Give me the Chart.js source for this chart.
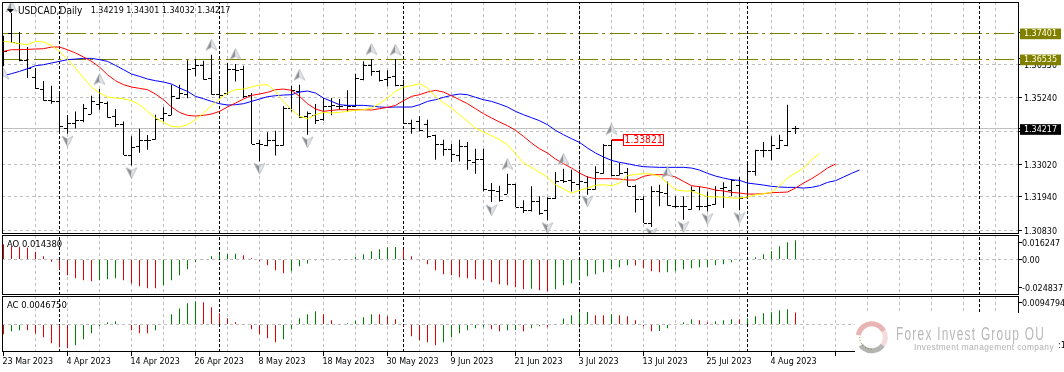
<!DOCTYPE html>
<html>
<head>
<meta charset="utf-8">
<title>USDCAD Daily</title>
<script src="https://cdn.jsdelivr.net/npm/chart.js@4"></script>
<style>
    html, body { margin: 0; padding: 0; background: #fff; }
    body { width: 1064px; height: 372px; overflow: hidden; position: relative; }
    canvas { position: absolute; left: 0; }
</style>
</head>
<body>
<canvas id="mainPane" width="1064" height="235" style="top:0"></canvas>
<canvas id="aoPane" width="1064" height="61" style="top:235px"></canvas>
<canvas id="acPane" width="1064" height="76" style="top:296px"></canvas>
<script>
// Daily bars
const highs = [1.37307,1.38062,1.37429,1.36930,1.36230,1.35798,1.35642,1.35420,1.34665,1.34787,
    1.35032,1.35309,1.35531,1.35120,1.34865,1.34454,1.33955,1.34210,1.33999,1.34676,
    1.34921,1.35676,1.35676,1.36486,1.36530,1.36475,1.36674,1.35842,1.36397,1.36364,
    1.36308,1.35398,1.33844,1.34088,1.34144,1.34954,1.35642,1.35676,1.34787,1.35032,
    1.35231,1.35231,1.35198,1.35487,1.36042,1.36452,1.36530,1.36153,1.36153,1.36530,
    1.35842,1.34510,1.34621,1.34510,1.34010,1.33844,1.33711,1.33844,1.33766,1.33544,
    1.33544,1.32401,1.32312,1.32712,1.32379,1.31824,1.32290,1.31957,1.31924,1.32767,
    1.32878,1.32845,1.32845,1.32623,1.32956,1.33700,1.33844,1.33067,1.32900,1.32345,
    1.31957,1.32290,1.32345,1.32456,1.31957,1.31957,1.32290,1.32290,1.32123,1.32290,
    1.32423,1.32534,1.32601,1.33067,1.33511,1.33766,1.33955,1.34010,1.35009,1.34301];
const lows = [1.36286,1.37063,1.36452,1.35897,1.35531,1.35143,1.35043,1.34088,1.34044,1.34221,
    1.34421,1.34688,1.34843,1.34577,1.34266,1.33333,1.32989,1.33411,1.33511,1.33844,
    1.34454,1.34654,1.35198,1.35220,1.35953,1.35842,1.35342,1.35309,1.35342,1.35786,
    1.35231,1.33700,1.33122,1.33622,1.33322,1.33644,1.34787,1.34566,1.34010,1.34366,
    1.34477,1.34654,1.34843,1.34787,1.34932,1.35820,1.35975,1.35786,1.35620,1.35620,
    1.34399,1.34044,1.34121,1.33899,1.33178,1.33311,1.33100,1.33122,1.32845,1.32712,
    1.32123,1.31768,1.31790,1.32046,1.31602,1.31402,1.31457,1.31346,1.31158,1.31868,
    1.32401,1.32123,1.32179,1.32012,1.32179,1.32712,1.32623,1.32656,1.32290,1.31424,
    1.31069,1.30936,1.31624,1.31646,1.31568,1.31180,1.31513,1.31491,1.31457,1.31679,
    1.31568,1.31957,1.31491,1.31935,1.32645,1.33256,1.33156,1.33533,1.33622,1.34032];
const opens = [1.37063,1.37396,1.37063,1.36508,1.35931,1.35531,1.35176,1.35120,1.34232,1.34399,
    1.34488,1.34710,1.35043,1.35065,1.34621,1.34377,1.33333,1.33622,1.33844,1.33866,
    1.34566,1.34676,1.35231,1.35376,1.36230,1.36341,1.35897,1.35376,1.35398,1.36208,
    1.36197,1.35320,1.33733,1.33655,1.33822,1.33677,1.34898,1.35453,1.34621,1.34676,
    1.34532,1.34954,1.34976,1.35009,1.34954,1.35864,1.36319,1.36119,1.35864,1.35975,
    1.35676,1.34399,1.34454,1.34377,1.33988,1.33700,1.33533,1.33344,1.33622,1.33089,
    1.33200,1.32179,1.32123,1.32046,1.32368,1.31602,1.31491,1.31813,1.31513,1.31901,
    1.32512,1.32490,1.32368,1.32434,1.32212,1.32734,1.33677,1.32656,1.32756,1.32290,
    1.31879,1.31069,1.32123,1.32068,1.31624,1.31624,1.31535,1.31646,1.31646,1.31713,
    1.32234,1.32179,1.32345,1.31935,1.32812,1.33489,1.33511,1.33566,1.33655,1.34219];
const closes = [1.36785,1.37085,1.36486,1.36230,1.35553,1.35176,1.35120,1.34288,1.34399,1.34510,
    1.34898,1.35120,1.35098,1.34599,1.34377,1.33333,1.33611,1.33844,1.33844,1.34532,
    1.34732,1.35309,1.35398,1.36208,1.36319,1.35875,1.35365,1.35342,1.36208,1.36175,
    1.35287,1.33700,1.33711,1.33844,1.33655,1.34898,1.35487,1.34599,1.34732,1.34510,
    1.34976,1.34987,1.34976,1.34976,1.35897,1.36341,1.36119,1.35842,1.35920,1.35676,
    1.34399,1.34232,1.34177,1.33977,1.33700,1.33533,1.33367,1.33644,1.33156,1.33200,
    1.32201,1.32157,1.31846,1.32368,1.31602,1.31491,1.31813,1.31402,1.31901,1.32456,
    1.32456,1.32423,1.32456,1.32201,1.32767,1.33677,1.32656,1.32734,1.32312,1.31879,
    1.31069,1.32123,1.32090,1.31679,1.31624,1.31624,1.32179,1.31646,1.31679,1.32179,
    1.32257,1.32512,1.31901,1.32812,1.33489,1.33511,1.33655,1.33844,1.34144,1.34217];

// Alligator lines, they run past the last bar
const lipsLine = [1.37118,1.37085,1.37041,1.37007,1.37118,1.37096,1.36985,1.36785,1.36508,1.36230,
    1.35897,1.35598,1.35398,1.35265,1.35231,1.35209,1.35143,1.35009,1.34787,1.34566,
    1.34421,1.34288,1.34266,1.34343,1.34510,1.34732,1.34976,1.35209,1.35398,1.35509,
    1.35531,1.35598,1.35664,1.35676,1.35453,1.35120,1.34843,1.34621,1.34543,1.34676,
    1.34754,1.34732,1.34754,1.34787,1.34821,1.34843,1.34898,1.35043,1.35231,1.35453,
    1.35598,1.35642,1.35709,1.35564,1.35287,1.35065,1.34898,1.34676,1.34454,1.34232,
    1.34099,1.33977,1.33844,1.33677,1.33378,1.33067,1.32923,1.32756,1.32590,1.32345,
    1.32201,1.32068,1.32157,1.32234,1.32323,1.32345,1.32312,1.32401,1.32645,1.32690,
    1.32712,1.32701,1.32623,1.32401,1.32179,1.32135,1.32135,1.32035,1.31946,1.31935,
    1.31935,1.31901,1.31901,1.31935,1.32012,1.32046,1.32090,1.32312,1.32567,1.32734,
    1.32900,1.33178,1.33378];
const teethLine = [1.36785,1.36841,1.36841,1.36852,1.36863,1.36874,1.36930,1.36930,1.36841,1.36730,
    1.36597,1.36452,1.36264,1.36008,1.35809,1.35676,1.35598,1.35553,1.35509,1.35365,
    1.35176,1.34932,1.34754,1.34654,1.34632,1.34654,1.34699,1.34787,1.34932,1.35065,
    1.35198,1.35320,1.35365,1.35420,1.35509,1.35531,1.35487,1.35287,1.35043,1.34865,
    1.34787,1.34821,1.34843,1.34843,1.34843,1.34843,1.34832,1.34876,1.34921,1.34987,
    1.35143,1.35287,1.35342,1.35431,1.35487,1.35431,1.35309,1.35176,1.35043,1.34876,
    1.34710,1.34566,1.34432,1.34310,1.34155,1.33955,1.33733,1.33544,1.33400,1.33200,
    1.33045,1.32900,1.32734,1.32601,1.32545,1.32545,1.32545,1.32534,1.32501,1.32501,
    1.32623,1.32678,1.32678,1.32678,1.32601,1.32456,1.32312,1.32279,1.32234,1.32168,
    1.32135,1.32090,1.32068,1.32035,1.32035,1.32046,1.32079,1.32090,1.32101,1.32234,
    1.32401,1.32545,1.32712,1.32900,1.33034];
const jawLine = [1.35975,1.36042,1.36119,1.36208,1.36308,1.36341,1.36397,1.36452,1.36508,1.36530,
    1.36552,1.36552,1.36508,1.36452,1.36319,1.36175,1.36031,1.35953,1.35864,1.35809,
    1.35764,1.35698,1.35564,1.35453,1.35287,1.35209,1.35120,1.35043,1.34998,1.35009,
    1.35043,1.35120,1.35198,1.35276,1.35309,1.35331,1.35342,1.35431,1.35465,1.35398,
    1.35231,1.35120,1.35009,1.34987,1.34987,1.34987,1.34965,1.34932,1.34921,1.34932,
    1.34932,1.34932,1.35009,1.35120,1.35176,1.35254,1.35320,1.35365,1.35342,1.35254,
    1.35176,1.35120,1.35032,1.34932,1.34787,1.34676,1.34577,1.34477,1.34343,1.34155,
    1.34010,1.33877,1.33755,1.33566,1.33400,1.33267,1.33156,1.33089,1.33045,1.32989,
    1.32945,1.32934,1.32923,1.32923,1.32923,1.32923,1.32900,1.32834,1.32723,1.32634,
    1.32567,1.32512,1.32490,1.32401,1.32368,1.32334,1.32290,1.32268,1.32257,1.32257,
    1.32234,1.32257,1.32312,1.32423,1.32479,1.32601,1.32723,1.32834];

// Fractal arrows
const fractalUpBars = [0,1,12,26,29,37,46,49,63,70,76,83];
const fractalUpPrices = [1.36042,1.38284,1.35864,1.37007,1.36697,1.36008,1.36863,1.36841,1.33034,1.33200,1.34199,1.32767];
const fractalDownBars = [8,16,32,38,61,68,73,81,85,88,92];
const fractalDownPrices = [1.33788,1.32734,1.32878,1.33755,1.31491,1.30902,1.31790,1.30714,1.30936,1.31202,1.31235];

// Oscillators
const aoValues = [0.011408,0.009920,0.009424,0.008928,0.005704,0.002480,-0.001736,-0.007192,-0.011656,-0.013888,
    -0.015376,-0.016120,-0.015376,-0.014632,-0.013888,-0.015376,-0.017856,-0.019840,-0.021328,-0.021452,
    -0.019096,-0.015376,-0.011656,-0.007192,-0.001984,0.000248,0.002480,0.003968,0.004092,0.004216,
    0.003224,0.000992,-0.001240,-0.004216,-0.007936,-0.010168,-0.008680,-0.004960,-0.002976,-0.000496,
    0.000124,0.000198,-0.000496,0.000248,0.001984,0.003968,0.006200,0.007688,0.009176,0.009300,
    0.007440,0.002480,-0.000496,-0.003472,-0.007936,-0.010912,-0.011656,-0.013144,-0.013888,-0.014632,
    -0.015376,-0.016864,-0.018352,-0.019096,-0.020584,-0.022072,-0.021824,-0.022816,-0.023808,-0.022072,
    -0.019096,-0.017608,-0.015376,-0.012400,-0.010912,-0.009424,-0.007192,-0.005704,-0.004216,-0.004464,
    -0.006448,-0.008680,-0.009548,-0.009424,-0.008680,-0.007192,-0.006448,-0.005704,-0.005580,-0.004216,
    -0.003472,-0.001984,-0.000992,0.000124,0.001736,0.003968,0.006200,0.009920,0.012896,0.014380];
const acValues = [-0.00377,-0.00260,-0.00221,-0.00228,-0.00351,-0.00494,-0.00728,-0.00884,-0.00923,-0.00806,
    -0.00572,-0.00338,-0.00065,0.00091,0.00130,0,-0.00221,-0.00338,-0.00345,-0.00221,
    0.00026,0.00403,0.00624,0.00832,0.00910,0.00871,0.00676,0.00442,0.00247,0.00091,
    0.00013,-0.00182,-0.00377,-0.00533,-0.00689,-0.00572,-0.00182,0.00247,0.00403,0.00520,
    0.00403,0.00169,0.00013,0.00052,0.00143,0.00286,0.00403,0.00397,0.00325,0.00208,
    -0.00065,-0.00455,-0.00611,-0.00689,-0.00806,-0.00689,-0.00494,-0.00338,-0.00221,-0.00143,
    -0.00104,-0.00182,-0.00260,-0.00221,-0.00215,-0.00260,-0.00143,-0.00065,-0.00104,0.00013,
    0.00234,0.00364,0.00481,0.00488,0.00364,0.00358,0.00403,0.00364,0.00325,0.00169,
    -0.00065,-0.00260,-0.00254,-0.00143,0,0.00091,0.00208,0.00169,0.00091,0.00130,
    0.00169,0.00208,0.00202,0.00247,0.00325,0.00442,0.00481,0.00559,0.00598,0.004675];

// Axes and labels
const dateLabels = ['23 Mar 2023','4 Apr 2023','14 Apr 2023','26 Apr 2023','8 May 2023','18 May 2023','30 May 2023',
    '9 Jun 2023','21 Jun 2023','3 Jul 2023','13 Jul 2023','25 Jul 2023','4 Aug 2023'];
const barsPerDateLabel = 8;
const barsPerGridLine = 4;
const lastGridBar = 124;
const separatorBars = [7,27,50,72,93,122];
const priceTicks = [1.3635,1.3524,1.3413,1.3302,1.3194,1.3083];
const priceTickLabels = ['1.36350','1.35240','1.34130','1.33020','1.31940','1.30830'];
const levelPrices = [1.37401,1.36535];
const levelLabels = ['1.37401','1.36535'];
const lastPrice = 1.34217;
const lastPriceLabel = '1.34217';
const highLabelBar = 76;
const highLabelPrice = 1.33821;
const highLabelText = '1.33821';
const aoTicks = [0.01265,0,-0.02083];
const aoTickLabels = ['0.016247','0.00','-0.024837'];
const acTicks = [0.00842];
const acTickLabels = ['0.0094794'];

const FONT_FAMILY = '"DejaVu Sans Condensed", "DejaVu Sans"';
const FONT_SIZE = 8.9;
const GRID_GREY = '#c0c0c0';
const OLIVE = '#808000';

// x scale: one bar every 8 px, first bar at 3.5 px
const xMin = -0.1875;
const xMax = 126.9375;

Chart.defaults.font.family = FONT_FAMILY;
Chart.defaults.font.size = FONT_SIZE;
Chart.defaults.color = '#000';
Chart.defaults.animation = false;

function points(values) {
    return values.map((v, i) => ({ x: i, y: v }));
}

function arrowIcon(up) {
    const c = document.createElement('canvas');
    c.width = 13;
    c.height = 13;
    const g = c.getContext('2d');
    if (!up) {
        g.translate(0, 13);
        g.scale(1, -1);
    }
    g.fillStyle = '#8c9094';
    g.beginPath(); g.moveTo(6.5, 1); g.lineTo(6.5, 9); g.lineTo(1, 12); g.closePath(); g.fill();
    g.fillStyle = '#e0e6ec';
    g.beginPath(); g.moveTo(6.5, 1); g.lineTo(12, 12); g.lineTo(6.5, 9); g.closePath(); g.fill();
    g.strokeStyle = '#b0b4b8';
    g.lineWidth = 0.7;
    g.beginPath(); g.moveTo(6.5, 1); g.lineTo(12, 12); g.lineTo(6.5, 9); g.lineTo(1, 12); g.closePath(); g.stroke();
    return c;
}

function separatorDataset(yLow, yHigh) {
    const data = [];
    separatorBars.forEach(b => {
        data.push({ x: b, y: yLow }, { x: b, y: yHigh }, { x: b, y: null });
    });
    return {
        type: 'line', data, order: 9, borderColor: '#000', borderWidth: 1,
        borderDash: [3, 2], pointRadius: 0, spanGaps: false
    };
}

function lineDataset(values, color, order) {
    return {
        type: 'line', data: points(values), order, borderColor: color,
        borderWidth: 1, pointRadius: 0, tension: 0
    };
}

function histogramDataset(values) {
    return {
        type: 'bar', data: points(values), order: 5, barThickness: 1, inflateAmount: 0,
        backgroundColor: ctx => {
            const i = ctx.dataIndex;
            return i > 0 && values[i] >= values[i - 1] ? '#008000' : '#e00000';
        }
    };
}

function zeroScalePadding(scale) {
    scale.paddingTop = 0;
    scale.paddingBottom = 0;
    scale.paddingLeft = 0;
    scale.paddingRight = 0;
}

function xAxis(firstTick, showLabels, height) {
    return {
        type: 'linear', min: xMin, max: xMax, offset: false,
        afterBuildTicks: scale => {
            const list = [];
            for (let b = firstTick; b <= lastGridBar; b += barsPerGridLine) list.push({ value: b });
            scale.ticks = list;
        },
        afterFit: scale => { scale.height = height; zeroScalePadding(scale); },
        border: { display: false, dash: [3, 3] },
        grid: {
            offset: false, drawTicks: showLabels, tickLength: 4, tickBorderDash: [],
            color: ctx => (ctx.tick && ctx.tick.value === 0 ? 'transparent' : GRID_GREY),
            tickColor: ctx => (ctx.tick && ctx.tick.value % barsPerDateLabel === 0 ? '#000' : 'transparent')
        },
        ticks: {
            display: showLabels, autoSkip: false, maxRotation: 0, align: 'start', padding: 0, labelOffset: -1,
            callback: value => dateLabels[value / barsPerDateLabel] || ''
        }
    };
}

function yAxis(min, max, tickList, labelOf, extra) {
    return Object.assign({
        type: 'linear', position: 'right', min, max,
        afterBuildTicks: scale => { scale.ticks = tickList.map(value => ({ value })); },
        afterFit: scale => { scale.width = 45; zeroScalePadding(scale); },
        border: { display: false, dash: [3, 3] },
        grid: { tickLength: 3, tickBorderDash: [], tickColor: '#000', color: GRID_GREY },
        ticks: { autoSkip: false, padding: 0, labelOffset: 1, callback: value => labelOf.get(value) }
    }, extra);
}

function labelMap(values, labels) {
    return new Map(values.map((v, i) => [v, labels[i]]));
}

function drawFrame(chart) {
    const { ctx, chartArea: a } = chart;
    ctx.save();
    ctx.strokeStyle = '#000';
    ctx.lineWidth = 1;
    ctx.strokeRect(a.left + 0.5, a.top + 0.5, a.right - a.left - 1, a.bottom - a.top - 1);
    ctx.restore();
}

function drawText(ctx, text, x, y, font, color) {
    ctx.font = font;
    ctx.fillStyle = color;
    ctx.textBaseline = 'middle';
    ctx.textAlign = 'left';
    ctx.fillText(text, x, y);
}

const baseFont = FONT_SIZE + 'px ' + FONT_FAMILY;
const paneFont = '9.4px ' + FONT_FAMILY;

// Level lines, open and close ticks of the bars
const ohlcTicks = {
    id: 'ohlcTicks',
    beforeDatasetsDraw(chart) {
        const { ctx, scales: { x, y }, chartArea: a } = chart;
        ctx.save();
        ctx.beginPath();
        ctx.rect(a.left, a.top, a.right - a.left, a.bottom - a.top);
        ctx.clip();

        ctx.lineWidth = 1;
        const hline = (value, color, dash) => {
            const py = Math.round(y.getPixelForValue(value)) + 0.5;
            ctx.strokeStyle = color;
            ctx.setLineDash(dash);
            ctx.beginPath();
            ctx.moveTo(a.left, py);
            ctx.lineTo(a.right, py);
            ctx.stroke();
        };
        hline(lastPrice, GRID_GREY, []);
        levelPrices.forEach(level => hline(level, OLIVE, [20, 4, 3, 5]));
        ctx.setLineDash([]);

        ctx.fillStyle = '#000';
        opens.forEach((open, i) => {
            const px = Math.floor(x.getPixelForValue(i));
            ctx.fillRect(px - 3, Math.round(y.getPixelForValue(open)), 3, 1);
            ctx.fillRect(px + 1, Math.round(y.getPixelForValue(closes[i])), 3, 1);
        });
        ctx.restore();
    }
};

const mainOverlay = {
    id: 'mainOverlay',
    afterDraw(chart) {
        const { ctx, scales: { x, y } } = chart;
        drawFrame(chart);
        ctx.save();
        // little black marker in front of the title
        ctx.fillStyle = '#000';
        ctx.beginPath();
        ctx.moveTo(7, 9); ctx.lineTo(14, 9); ctx.lineTo(10.5, 13); ctx.closePath(); ctx.fill();
        drawText(ctx, 'USDCAD,Daily', 18, 11, '10px ' + FONT_FAMILY, '#000');
        drawText(ctx, '1.34219 1.34301 1.34032 1.34217', 90.7, 11, baseFont, '#000');

        const px = Math.floor(x.getPixelForValue(highLabelBar)) + 1;
        const py = Math.round(y.getPixelForValue(highLabelPrice));
        ctx.fillStyle = '#ff0000';
        ctx.fillRect(px, py - 1, 11, 2);
        ctx.fillStyle = '#fff';
        ctx.fillRect(px + 11, py - 6, 41, 12);
        ctx.strokeStyle = '#ff0000';
        ctx.strokeRect(px + 11.5, py - 5.5, 40, 11);
        drawText(ctx, highLabelText, px + 12.5, py + 0.5, '10.3px ' + FONT_FAMILY, '#ff0000');
        ctx.restore();
    }
};

const aoOverlay = {
    id: 'aoOverlay',
    afterDraw(chart) {
        drawFrame(chart);
        drawText(chart.ctx, 'AO 0.014380', 7, 9.5, paneFont, '#000');
    }
};

const acOverlay = {
    id: 'acOverlay',
    afterDraw(chart) {
        const ctx = chart.ctx;
        drawFrame(chart);
        drawText(ctx, 'AC 0.0046750', 7, 9.5, paneFont, '#000');

        // watermark panel sits over the corner of the pane
        ctx.save();
        ctx.fillStyle = '#fff';
        ctx.fillRect(855, 17, 209, 59);
        const cx = 871.7, cy = 41.3;
        ctx.lineWidth = 5;
        ctx.strokeStyle = '#e8b4b4';
        ctx.beginPath(); ctx.arc(cx, cy, 13.5, Math.PI * 1.05, Math.PI * 1.85); ctx.stroke();
        ctx.strokeStyle = '#f4dcdc';
        ctx.beginPath(); ctx.arc(cx, cy, 13.5, Math.PI * 1.85, Math.PI * 2.2); ctx.stroke();
        ctx.strokeStyle = '#b4b4b4';
        ctx.beginPath(); ctx.arc(cx, cy, 13.5, Math.PI * 0.2, Math.PI * 0.8); ctx.stroke();
        ctx.lineWidth = 1;
        ctx.strokeStyle = OLIVE;
        ctx.setLineDash([1, 2]);
        ctx.beginPath(); ctx.arc(cx, cy, 12, Math.PI * 0.5, Math.PI * 1.05); ctx.stroke();
        ctx.setLineDash([]);

        ctx.font = '19px "Liberation Sans Narrow", "Liberation Sans"';
        ctx.letterSpacing = '2px';
        ctx.fillStyle = '#b8b8b8';
        ctx.textBaseline = 'middle';
        ctx.fillText('Forex Invest Group OU', 896, 39, 149);
        ctx.letterSpacing = '0.5px';
        ctx.font = '9.5px "Liberation Sans"';
        ctx.fillStyle = '#b0b0b0';
        ctx.fillText('Investment management company', 914, 51, 140);
        ctx.letterSpacing = '0px';
        drawText(ctx, ':15', 1058, 50, baseFont, '#000');
        ctx.restore();
    }
};

// Main pane
const priceLabelOf = new Map([
    ...labelMap(priceTicks, priceTickLabels),
    ...labelMap(levelPrices, levelLabels),
    [lastPrice, lastPriceLabel]
]);
const boxedColor = value => {
    if (value === lastPrice) return '#000';
    return levelPrices.includes(value) ? OLIVE : null;
};
const priceMin = 1.30704;
const priceMax = 1.38429;

new Chart(document.getElementById('mainPane'), {
    type: 'bar',
    plugins: [ohlcTicks, mainOverlay],
    data: {
        datasets: [
            separatorDataset(priceMin, priceMax),
            {
                type: 'bar', order: 5, barThickness: 1, inflateAmount: 0, backgroundColor: '#000',
                data: highs.map((h, i) => ({ x: i, y: [lows[i], h] }))
            },
            lineDataset(jawLine, '#0000ff', 3),
            lineDataset(teethLine, '#ff0000', 2),
            lineDataset(lipsLine, '#ffff00', 1),
            {
                type: 'line', order: 0, showLine: false, pointRadius: 6, pointStyle: arrowIcon(true),
                data: fractalUpBars.map((b, i) => ({ x: b, y: fractalUpPrices[i] }))
            },
            {
                type: 'line', order: 0, showLine: false, pointRadius: 6, pointStyle: arrowIcon(false),
                data: fractalDownBars.map((b, i) => ({ x: b, y: fractalDownPrices[i] }))
            }
        ]
    },
    options: {
        responsive: false,
        layout: { autoPadding: false, padding: { top: 2, left: 2, right: 0, bottom: 1 } },
        plugins: { legend: { display: false }, tooltip: { enabled: false } },
        scales: {
            x: xAxis(barsPerGridLine, false, 0),
            y: yAxis(priceMin, priceMax, [...priceTicks, ...levelPrices, lastPrice], priceLabelOf, {
                grid: {
                    tickLength: 3, tickBorderDash: [], tickColor: '#000',
                    color: ctx => (ctx.tick && boxedColor(ctx.tick.value) ? 'transparent' : GRID_GREY)
                },
                ticks: {
                    autoSkip: false, padding: 2, labelOffset: 1,
                    callback: value => priceLabelOf.get(value),
                    color: ctx => (boxedColor(ctx.tick.value) ? (ctx.tick.value === lastPrice ? '#fff' : '#ffffe0') : '#000'),
                    showLabelBackdrop: ctx => !!boxedColor(ctx.tick.value),
                    backdropColor: ctx => boxedColor(ctx.tick.value) || 'transparent',
                    backdropPadding: { left: 4, right: 4, top: 0, bottom: 0 }
                }
            })
        }
    }
});

function oscillatorChart(id, values, yMin, yMax, ticks, labels, overlay, axisX, bottomPad) {
    new Chart(document.getElementById(id), {
        type: 'bar',
        plugins: [overlay],
        data: { datasets: [separatorDataset(yMin, yMax), histogramDataset(values)] },
        options: {
            responsive: false,
            layout: { autoPadding: false, padding: { top: 0, left: 2, right: 0, bottom: bottomPad } },
            plugins: { legend: { display: false }, tooltip: { enabled: false } },
            scales: {
                x: axisX,
                y: yAxis(yMin, yMax, ticks, labelMap(ticks, labels), {
                    grid: {
                        tickLength: 3, tickBorderDash: [], tickColor: '#000',
                        color: ctx => (ctx.tick && ctx.tick.value === 0 ? GRID_GREY : 'transparent')
                    }
                })
            }
        }
    });
}

oscillatorChart('aoPane', aoValues, -0.026412, 0.018228, aoTicks, aoTickLabels, aoOverlay, xAxis(barsPerGridLine, false, 0), 1);
oscillatorChart('acPane', acValues, -0.010725, 0.011115, [...acTicks, 0], [...acTickLabels, ''], acOverlay, xAxis(0, true, 20), 0);
</script>
</body>
</html>
